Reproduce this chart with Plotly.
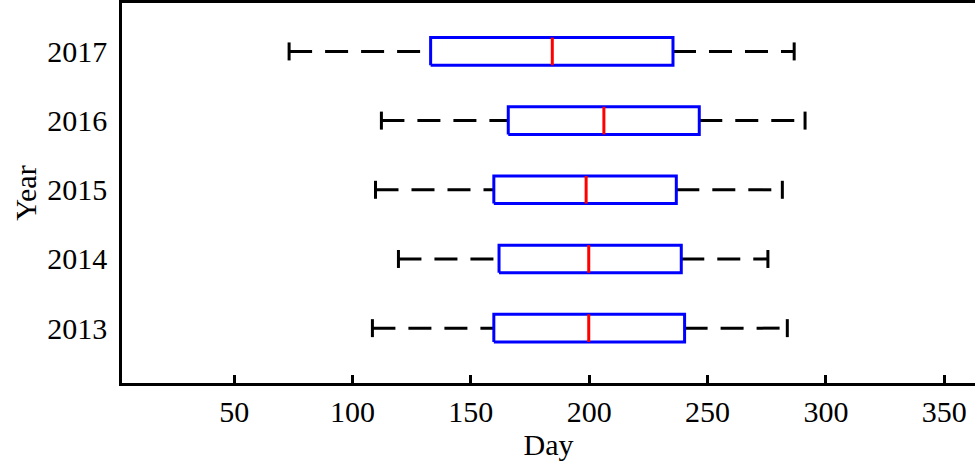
import plotly.graph_objects as go

# Box-plot summary of day-of-year per year
years = ["2013", "2014", "2015", "2016", "2017"]
lower_whisker = [108.4, 119.4, 109.7, 112.2, 73.2]
q1 = [159.7, 161.9, 159.7, 165.8, 133.0]
median = [199.8, 199.8, 198.7, 206.2, 184.4]
q3 = [240.3, 238.9, 236.8, 246.5, 235.4]
upper_whisker = [283.7, 275.5, 281.6, 291.2, 286.6]
x_ticks = [50, 100, 150, 200, 250, 300, 350]

BOX_HALF = 0.2
CAP_HALF = 0.13
FONT = "Liberation Serif"

fig = go.Figure()

box_x, box_y = [], []
med_x, med_y = [], []
wl_x, wl_y = [], []
wu_x, wu_y = [], []
cap_x, cap_y = [], []
for i in range(len(years)):
    p = i + 1
    box_x += [q1[i], q3[i], q3[i], q1[i], q1[i], None]
    box_y += [p - BOX_HALF, p - BOX_HALF, p + BOX_HALF, p + BOX_HALF, p - BOX_HALF, None]
    med_x += [median[i], median[i], None]
    med_y += [p - BOX_HALF, p + BOX_HALF, None]
    wl_x += [lower_whisker[i], q1[i], None]
    wl_y += [p, p, None]
    wu_x += [q3[i], upper_whisker[i], None]
    wu_y += [p, p, None]
    for w in (lower_whisker[i], upper_whisker[i]):
        cap_x += [w, w, None]
        cap_y += [p - CAP_HALF, p + CAP_HALF, None]

dash = "23px,13px"
fig.add_trace(go.Scatter(x=wl_x, y=wl_y, mode="lines",
                         line=dict(color="black", width=3, dash=dash)))
fig.add_trace(go.Scatter(x=wu_x, y=wu_y, mode="lines",
                         line=dict(color="black", width=3, dash=dash)))
fig.add_trace(go.Scatter(x=cap_x, y=cap_y, mode="lines",
                         line=dict(color="black", width=3)))
fig.add_trace(go.Scatter(x=box_x, y=box_y, mode="lines",
                         line=dict(color="#0000ff", width=3)))
fig.add_trace(go.Scatter(x=med_x, y=med_y, mode="lines",
                         line=dict(color="#ff0000", width=3)))

fig.update_layout(
    width=975, height=469,
    margin=dict(l=122, r=0, t=1, b=86),
    plot_bgcolor="white", paper_bgcolor="white",
    showlegend=False,
    font=dict(family=FONT, size=30, color="black"),
)
fig.update_xaxes(
    range=[2.6, 363], tickvals=x_ticks, ticktext=[str(v) for v in x_ticks],
    ticks="inside", ticklen=8, tickwidth=2.5, tickcolor="black",
    showline=True, linecolor="black", linewidth=2.5, mirror=True,
    showgrid=False, zeroline=False,
    title=dict(text="Day", font=dict(family=FONT, size=30), standoff=4),
)
fig.update_yaxes(
    range=[0.207, 5.70], tickvals=[1, 2, 3, 4, 5], ticktext=years,
    ticks="", showline=True, linecolor="black", linewidth=2.5,
    showgrid=False, zeroline=False, ticklabelstandoff=6,
    title=dict(text="Year", font=dict(family=FONT, size=30), standoff=2),
)

fig.write_html("out.html")
